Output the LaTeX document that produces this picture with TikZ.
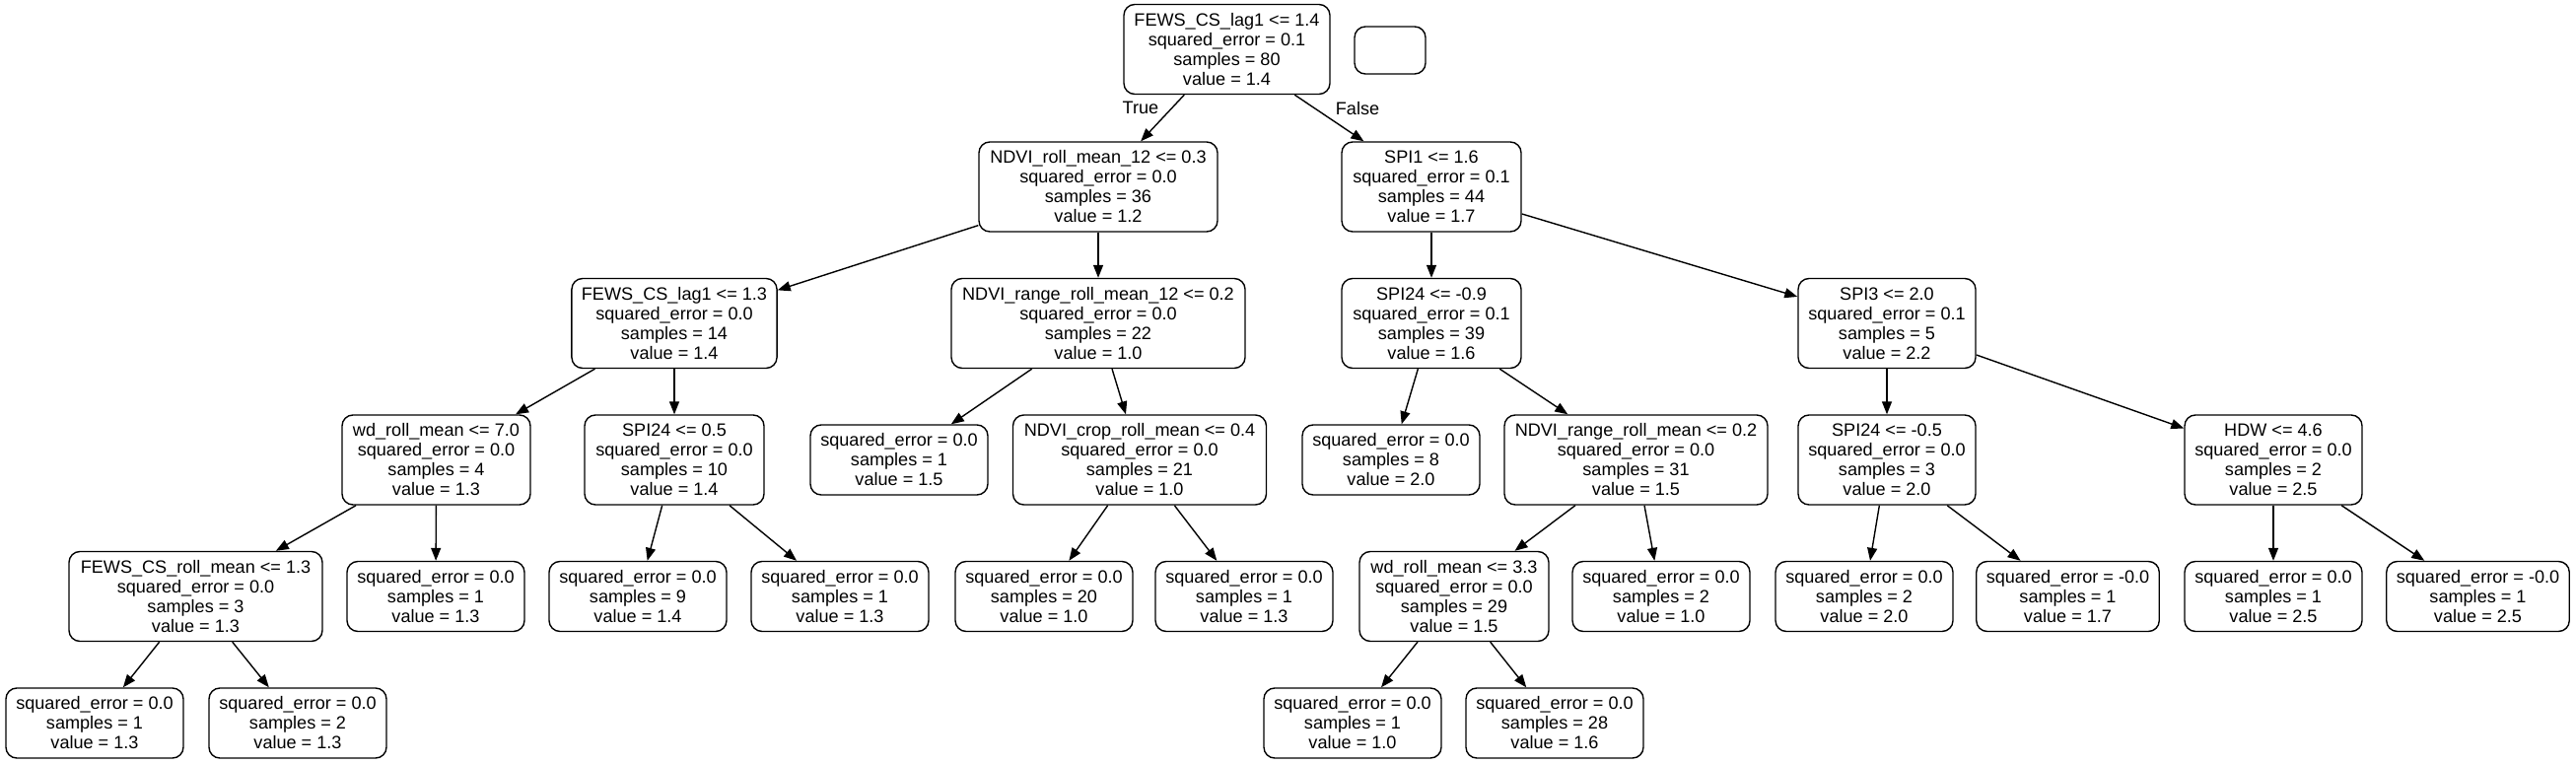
\documentclass[tikz,border=0pt]{standalone}
\usepackage{fontspec}
\setmainfont{Liberation Sans}
\usetikzlibrary{arrows.meta}
\begin{document}
\begin{tikzpicture}[x=1pt,y=-1pt,
  tn/.style={draw=black, line width=1.4pt, rounded corners=11pt, align=center,
    inner xsep=10pt, inner ysep=2pt, font=\fontsize{18.1}{20}\selectfont,
    minimum height=91pt},
  lf/.style={tn, minimum height=71pt, minimum width=180pt},
  edge/.style={draw=black, line width=1.4pt, -{Triangle[length=13pt,width=10pt]}},
  lbl/.style={font=\fontsize{18.1}{20}\selectfont, inner sep=0pt}]
\useasboundingbox (0,0) rectangle (2613,775);
% level 0
\node[tn, minimum width=209pt] (r) at (1244.5,50) {FEWS\_CS\_lag1 <= 1.4\\squared\_error = 0.1\\samples = 80\\value = 1.4};
\node[draw=black, line width=1.4pt, rounded corners=11pt, minimum width=72pt, minimum height=48pt, inner sep=0pt] (e) at (1410,51) {};
% level 1
\node[tn, minimum width=242pt] (a) at (1114,189.5) {NDVI\_roll\_mean\_12 <= 0.3\\squared\_error = 0.0\\samples = 36\\value = 1.2};
\node[tn, minimum width=182pt] (b) at (1452,189.5) {SPI1 <= 1.6\\squared\_error = 0.1\\samples = 44\\value = 1.7};
% level 2
\node[tn, minimum width=208pt] (a1) at (684,328) {FEWS\_CS\_lag1 <= 1.3\\squared\_error = 0.0\\samples = 14\\value = 1.4};
\node[tn, minimum width=298pt] (a2) at (1114,328) {NDVI\_range\_roll\_mean\_12 <= 0.2\\squared\_error = 0.0\\samples = 22\\value = 1.0};
\node[tn, minimum width=182pt] (b1) at (1452,328) {SPI24 <= -0.9\\squared\_error = 0.1\\samples = 39\\value = 1.6};
\node[tn, minimum width=180pt] (b2) at (1914,328) {SPI3 <= 2.0\\squared\_error = 0.1\\samples = 5\\value = 2.2};
% level 3
\node[tn, minimum width=191pt] (a11) at (442.5,466.5) {wd\_roll\_mean <= 7.0\\squared\_error = 0.0\\samples = 4\\value = 1.3};
\node[tn, minimum width=182pt] (a12) at (684,466.5) {SPI24 <= 0.5\\squared\_error = 0.0\\samples = 10\\value = 1.4};
\node[lf] (a21) at (912,466.5) {squared\_error = 0.0\\samples = 1\\value = 1.5};
\node[tn, minimum width=257pt] (a22) at (1156,466.5) {NDVI\_crop\_roll\_mean <= 0.4\\squared\_error = 0.0\\samples = 21\\value = 1.0};
\node[lf] (b11) at (1411,466.5) {squared\_error = 0.0\\samples = 8\\value = 2.0};
\node[tn, minimum width=267pt] (b12) at (1659.5,466.5) {NDVI\_range\_roll\_mean <= 0.2\\squared\_error = 0.0\\samples = 31\\value = 1.5};
\node[tn, minimum width=180pt] (b21) at (1914,466.5) {SPI24 <= -0.5\\squared\_error = 0.0\\samples = 3\\value = 2.0};
\node[tn, minimum width=180pt] (b22) at (2306,466.5) {HDW <= 4.6\\squared\_error = 0.0\\samples = 2\\value = 2.5};
% level 4
\node[tn, minimum width=257pt] (a111) at (198.5,605) {FEWS\_CS\_roll\_mean <= 1.3\\squared\_error = 0.0\\samples = 3\\value = 1.3};
\node[lf] (a112) at (442,605) {squared\_error = 0.0\\samples = 1\\value = 1.3};
\node[lf] (a121) at (647,605) {squared\_error = 0.0\\samples = 9\\value = 1.4};
\node[lf] (a122) at (852,605) {squared\_error = 0.0\\samples = 1\\value = 1.3};
\node[lf] (a221) at (1059,605) {squared\_error = 0.0\\samples = 20\\value = 1.0};
\node[lf] (a222) at (1262,605) {squared\_error = 0.0\\samples = 1\\value = 1.3};
\node[tn, minimum width=192pt] (b121) at (1475,605) {wd\_roll\_mean <= 3.3\\squared\_error = 0.0\\samples = 29\\value = 1.5};
\node[lf] (b122) at (1685,605) {squared\_error = 0.0\\samples = 2\\value = 1.0};
\node[lf] (b211) at (1891,605) {squared\_error = 0.0\\samples = 2\\value = 2.0};
\node[lf, minimum width=183pt] (b212) at (2097.5,605) {squared\_error = -0.0\\samples = 1\\value = 1.7};
\node[lf] (b221) at (2306,605) {squared\_error = 0.0\\samples = 1\\value = 2.5};
\node[lf, minimum width=185pt] (b222) at (2513.5,605) {squared\_error = -0.0\\samples = 1\\value = 2.5};
% level 5
\node[lf] (a1111) at (96,733.5) {squared\_error = 0.0\\samples = 1\\value = 1.3};
\node[lf] (a1112) at (302,733.5) {squared\_error = 0.0\\samples = 2\\value = 1.3};
\node[lf] (b1211) at (1372,733.5) {squared\_error = 0.0\\samples = 1\\value = 1.0};
\node[lf] (b1212) at (1577,733.5) {squared\_error = 0.0\\samples = 28\\value = 1.6};
% edges
\draw[edge] (r) -- (a);
\draw[edge] (r) -- (b);
\node[lbl] (tl) at (1157,109) {True};
\node[lbl] (fl) at (1377,110) {False};
\draw[edge] (a) -- (a1);
\draw[edge] (a) -- (a2);
\draw[edge] (b) -- (b1);
\draw[edge] (b) -- (b2);
\draw[edge] (a1) -- (a11);
\draw[edge] (a1) -- (a12);
\draw[edge] (a2) -- (a21);
\draw[edge] (a2) -- (a22);
\draw[edge] (b1) -- (b11);
\draw[edge] (b1) -- (b12);
\draw[edge] (b2) -- (b21);
\draw[edge] (b2) -- (b22);
\draw[edge] (a11) -- (a111);
\draw[edge] (a11) -- (a112);
\draw[edge] (a12) -- (a121);
\draw[edge] (a12) -- (a122);
\draw[edge] (a22) -- (a221);
\draw[edge] (a22) -- (a222);
\draw[edge] (b12) -- (b121);
\draw[edge] (b12) -- (b122);
\draw[edge] (b21) -- (b211);
\draw[edge] (b21) -- (b212);
\draw[edge] (b22) -- (b221);
\draw[edge] (b22) -- (b222);
\draw[edge] (a111) -- (a1111);
\draw[edge] (a111) -- (a1112);
\draw[edge] (b121) -- (b1211);
\draw[edge] (b121) -- (b1212);
\end{tikzpicture}
\end{document}
